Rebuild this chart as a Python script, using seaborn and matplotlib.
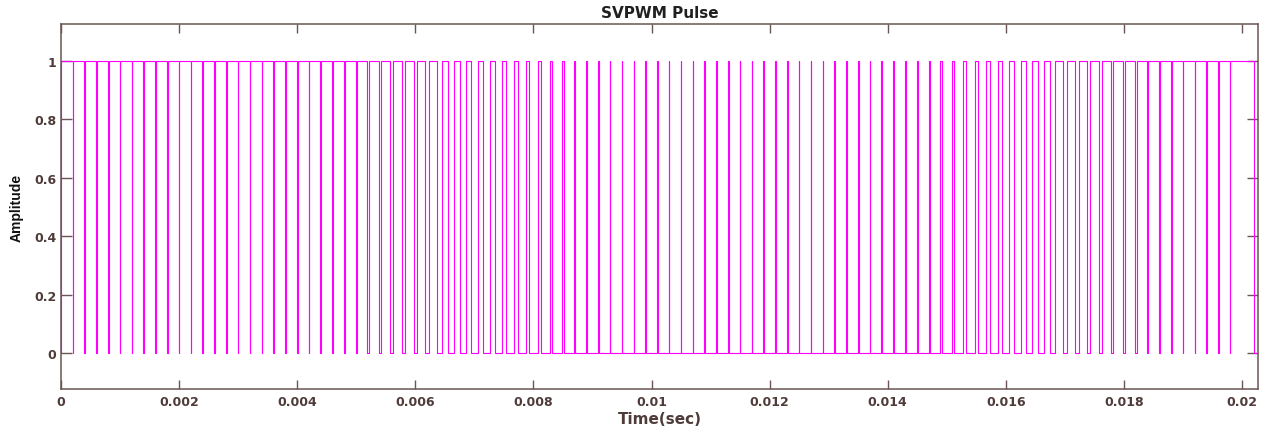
import numpy as np
import pandas as pd
import matplotlib
matplotlib.use("Agg")
import matplotlib.pyplot as plt
from matplotlib import font_manager
import seaborn as sns

# ---------------- data ----------------
carrier_period = 0.0002          # s, one PWM period
# duty cycle (fraction of each carrier period spent high), periods 1..100
duty = [
    0.96, 0.96, 0.96, 0.95, 0.95, 0.95, 0.94, 0.94, 0.94, 0.94,
    0.95, 0.95, 0.95, 0.96, 0.96, 0.96, 0.96, 0.95, 0.95, 0.94,
    0.94, 0.93, 0.92, 0.91, 0.88, 0.84, 0.79, 0.76, 0.73, 0.70,
    0.66, 0.61, 0.56, 0.52, 0.48, 0.45, 0.41, 0.36, 0.32, 0.28,
    0.22, 0.17, 0.12, 0.09, 0.07, 0.06, 0.05, 0.05, 0.05, 0.04,
    0.04, 0.04, 0.05, 0.05, 0.05, 0.06, 0.06, 0.06, 0.06, 0.06,
    0.06, 0.05, 0.05, 0.05, 0.04, 0.04, 0.04, 0.05, 0.05, 0.06,
    0.06, 0.07, 0.08, 0.09, 0.12, 0.16, 0.21, 0.26, 0.30, 0.36,
    0.39, 0.44, 0.50, 0.55, 0.62, 0.66, 0.69, 0.71, 0.74, 0.78,
    0.83, 0.87, 0.91, 0.93, 0.94, 0.95, 0.95, 0.96, 0.96, 1.00,
]
tail_drop_time = 0.0202          # s, final fall to 0
end_time = 0.02027               # s, last sample

x_ticks = [0, 0.002, 0.004, 0.006, 0.008, 0.01, 0.012, 0.014, 0.016, 0.018, 0.02]
x_tick_labels = ["0", "0.002", "0.004", "0.006", "0.008", "0.01", "0.012",
                 "0.014", "0.016", "0.018", "0.02"]
y_ticks = [0, 0.2, 0.4, 0.6, 0.8, 1]
y_tick_labels = ["0", "0.2", "0.4", "0.6", "0.8", "1"]

title_text = "SVPWM Pulse"
x_label = "Time(sec)"
y_label = "Amplitude"

# ---------------- build the step waveform ----------------
T = carrier_period
intervals = []
for j, d in enumerate(duty):
    c = (j + 0.5) * T
    intervals.append([c - d * T / 2, c + d * T / 2])
intervals.append([len(duty) * T, tail_drop_time])

merged = []
for a, b in intervals:
    if merged and abs(a - merged[-1][1]) < 1e-12:
        merged[-1][1] = b
    else:
        merged.append([a, b])

t = [0.0]
v = [0]
for a, b in merged:
    t += [a, a, b, b]
    v += [0, 1, 1, 0]
t.append(end_time)
v.append(0)

df = pd.DataFrame({"Time": t, "Amplitude": v})

# ---------------- plot ----------------
sns.set_style("white")
plt.rcParams["font.family"] = ["DejaVu Sans"]

available = {f.name for f in font_manager.fontManager.ttflist}
if "Liberation Sans Narrow" in available:
    ylab_family = ["Liberation Sans Narrow", "DejaVu Sans"]
    ylab_size = 11.5
else:
    ylab_family = ["Liberation Sans", "DejaVu Sans"]
    ylab_size = 10

axis_col = "#6a5654"
label_col = "#4e3b3a"

fig = plt.figure(figsize=(12.66, 4.27), dpi=100)
ax = fig.add_axes([61 / 1266, 1 - 390 / 427, (1258 - 61) / 1266, (390 - 25) / 427])

sns.lineplot(data=df, x="Time", y="Amplitude", estimator=None, sort=False,
             color="#ff00ff", linewidth=0.8, ax=ax)

ax.set_xlim(0, end_time)
ax.set_ylim(-0.123, 1.125)
ax.set_xticks(x_ticks)
ax.set_xticklabels(x_tick_labels)
ax.set_yticks(y_ticks)
ax.set_yticklabels(y_tick_labels)

for s in ax.spines.values():
    s.set_visible(True)
    s.set_color(axis_col)
    s.set_linewidth(1.1)

ax.tick_params(axis="x", direction="in", length=6.5, width=1.0, color=axis_col,
               top=True, bottom=True, labelsize=9, labelcolor=label_col, pad=4)
ax.tick_params(axis="y", direction="in", length=7.7, width=1.0, color=axis_col,
               left=True, right=True, labelsize=9, labelcolor=label_col, pad=3.5)
for lab in ax.get_xticklabels() + ax.get_yticklabels():
    lab.set_fontweight("bold")

ax.set_title(title_text, fontsize=11, fontweight="bold", color="#202020", pad=5)
ax.set_xlabel(x_label, fontsize=11, fontweight="bold", color=label_col, labelpad=2.5)
ax.set_ylabel(y_label, fontsize=ylab_size, fontweight="bold", color="#111111",
              family=ylab_family)
ax.yaxis.set_label_coords(-(61 - 24) / 1197, 0.5)
ax.grid(False)

fig.savefig("out.png", dpi=100)
